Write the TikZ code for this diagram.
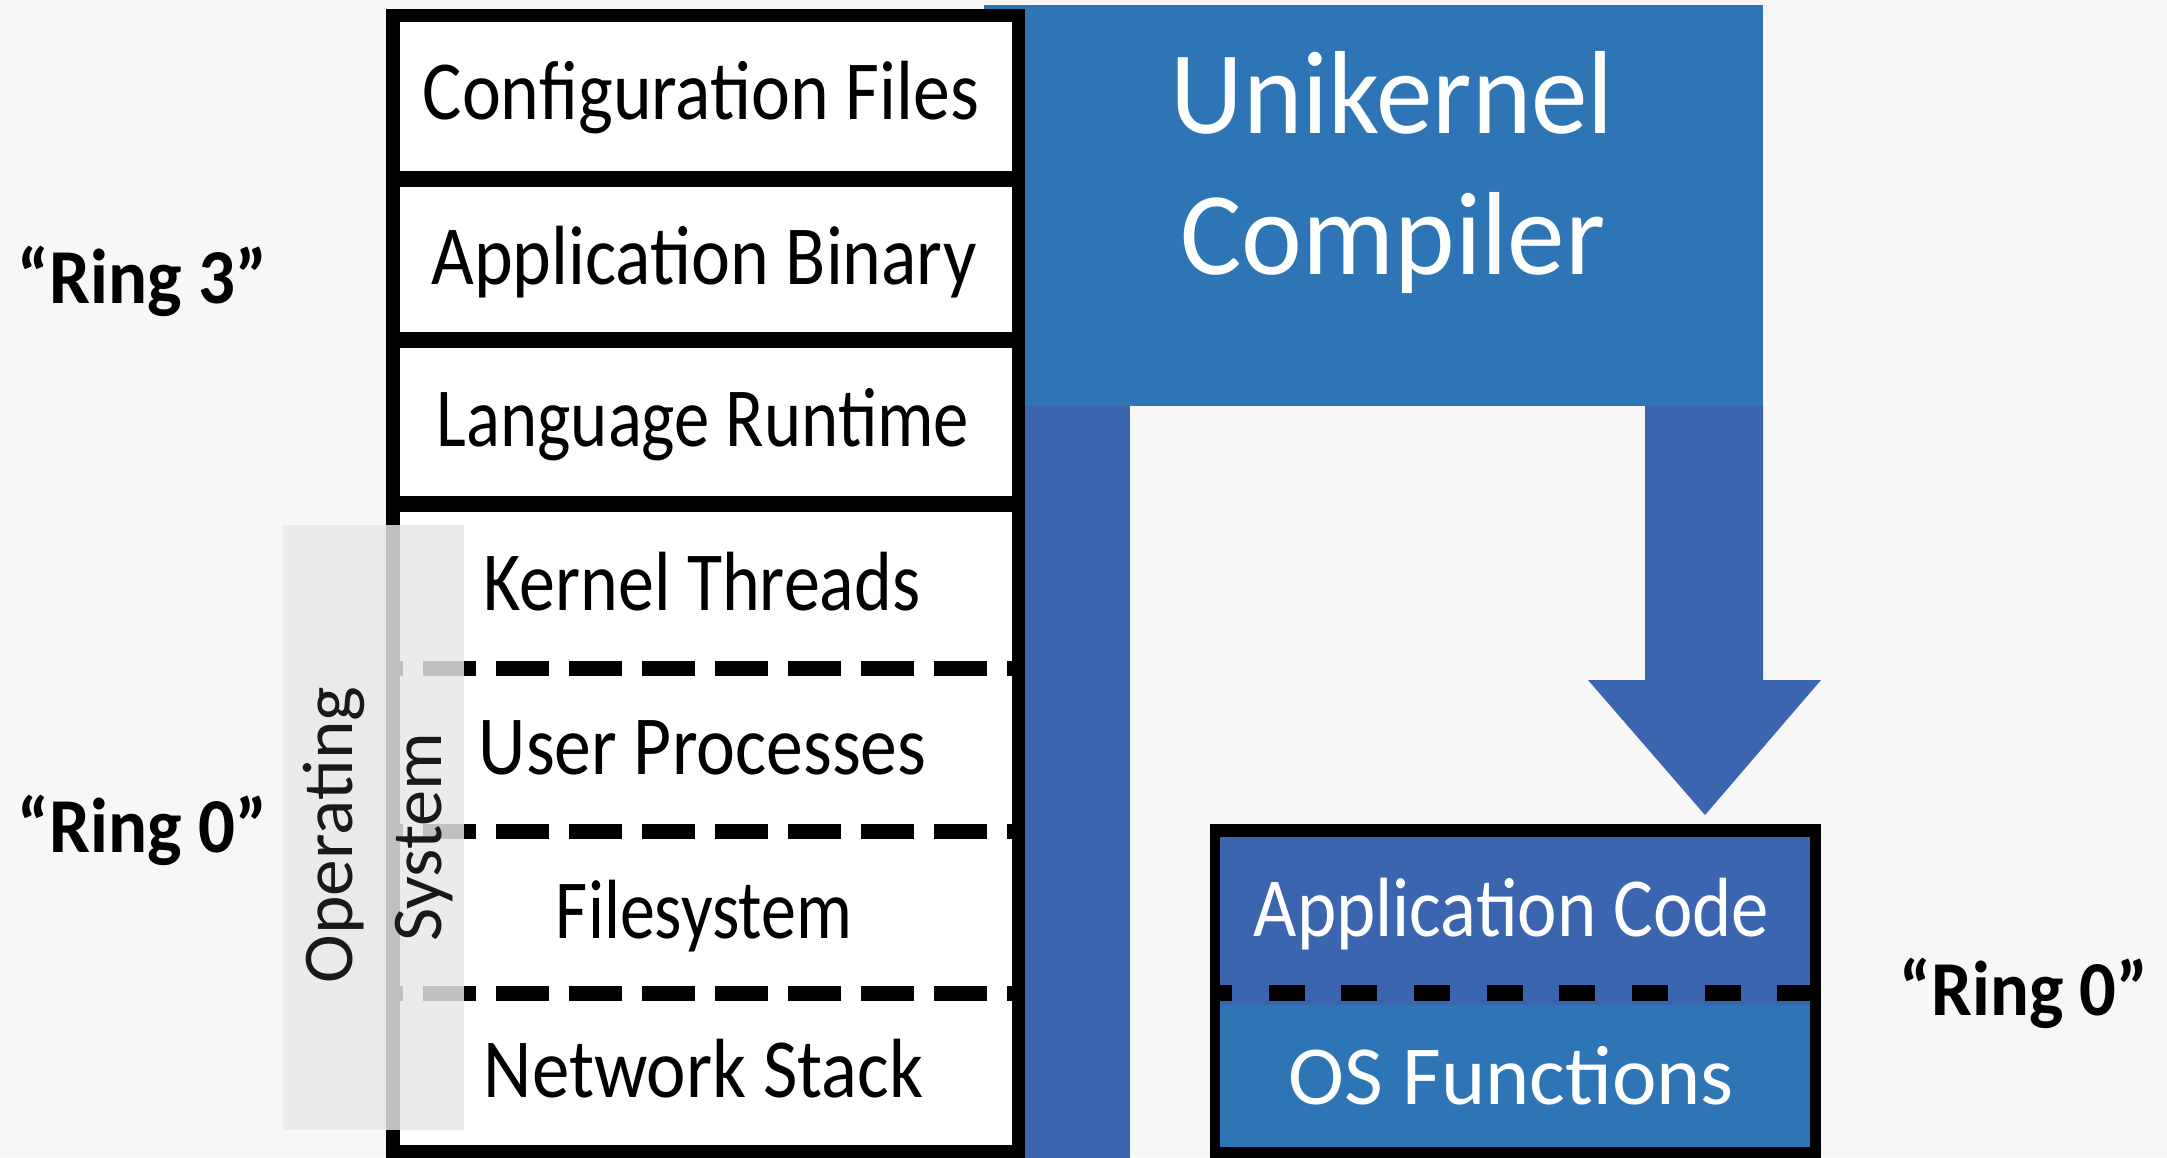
\documentclass[tikz,border=0pt]{standalone}
\usepackage{fontspec}
\setmainfont{Carlito}
\usepackage{graphicx}
\definecolor{bgc}{HTML}{F7F7F7}
\definecolor{blueA}{HTML}{2E75B6}
\definecolor{blueB}{HTML}{3C65AF}
\newcommand\fitw[2]{\resizebox{#1}{\height}{#2}}
\tikzset{
  txt/.style={inner sep=0pt, outer sep=0pt, anchor=base},
  boxfont/.style={font=\fontsize{23.9pt}{24pt}\selectfont, text=black},
  whitefont/.style={font=\fontsize{23.9pt}{24pt}\selectfont, text=white},
  titlefont/.style={font=\fontsize{33.6pt}{34pt}\selectfont, text=white},
  ringfont/.style={font=\fontsize{22.1pt}{23pt}\selectfont\bfseries, text=black},
  osfont/.style={font=\fontsize{20.3pt}{21pt}\selectfont, text=black!90},
  sepdash/.style={line width=0.15cm, black, dash pattern=on 0.53cm off 0.20cm, dash phase=0.50cm},
  appdash/.style={line width=0.16cm, black, dash pattern=on 0.36cm off 0.366cm, dash phase=0.24cm}
}
\begin{document}
\begin{tikzpicture}[x=0.01cm,y=-0.01cm]
\path[use as bounding box] (0,0) rectangle (2167,1157);
\clip (0,0) rectangle (2167,1157);
\fill[bgc] (0,0) rectangle (2167,1157);

% blue compiler shape
\fill[blueA] (984,5) rectangle (1763,406);
\fill[blueB] (984,406) rectangle (1130,1170);
\fill[blueB] (1645,406) -- (1763,406) -- (1763,680) -- (1821,680) -- (1705,815) -- (1588,680) -- (1645,680) -- cycle;

% traditional stack
\fill[black] (386,9) rectangle (1025,1170);
\fill[white] (400,22) rectangle (1012,171);
\fill[white] (400,187) rectangle (1012,332);
\fill[white] (400,348) rectangle (1012,496);
\fill[white] (400,512) rectangle (1012,1145);
\coordinate (d1l) at (400,668.5); \coordinate (d1r) at (1012,668.5);
\coordinate (d2l) at (400,831.5); \coordinate (d2r) at (1012,831.5);
\coordinate (d3l) at (400,993.5); \coordinate (d3r) at (1012,993.5);
\draw[sepdash] (d1l) -- (d1r);
\draw[sepdash] (d2l) -- (d2r);
\draw[sepdash] (d3l) -- (d3r);

% operating system overlay
\fill[gray!18, fill opacity=0.83] (283,525) rectangle (464,1130);
\node[txt, osfont, rotate=90] (os1) at (352,835) {\fitw{2.96cm}{Operating}};
\node[txt, osfont, rotate=90] (os2) at (441,837) {\fitw{2.09cm}{System}};

% stack texts
\node[txt, boxfont] (cfg) at (701,119) {\fitw{5.56cm}{Configuration Files}};
\node[txt, boxfont] (bin) at (704,284) {\fitw{5.45cm}{Application Binary}};
\node[txt, boxfont] (rt)  at (703,446) {\fitw{5.32cm}{Language Runtime}};
\node[txt, boxfont] (kt)  at (702,610) {\fitw{4.36cm}{Kernel Threads}};
\node[txt, boxfont] (up)  at (702.5,774) {\fitw{4.47cm}{User Processes}};
\node[txt, boxfont] (fs)  at (704,938) {\fitw{2.96cm}{Filesystem}};
\node[txt, boxfont] (ns)  at (703.5,1097) {\fitw{4.39cm}{Network Stack}};

% compiler title
\node[txt, titlefont] (uk) at (1392,133) {\fitw{4.43cm}{Unikernel}};
\node[txt, titlefont] (cp) at (1393,274) {\fitw{4.25cm}{Compiler}};

% unikernel box
\fill[black] (1210,824) rectangle (1821,1170);
\fill[blueB] (1220,837) rectangle (1810,1005);
\fill[blueA] (1220,1005) rectangle (1810,1147);
\coordinate (al) at (1220,993); \coordinate (ar) at (1810,993);
\draw[appdash] (al) -- (ar);
\node[txt, whitefont] (ac) at (1511.5,936) {\fitw{5.15cm}{Application Code}};
\node[txt, whitefont] (of) at (1511.5,1104) {\fitw{4.45cm}{OS Functions}};

% ring labels
\node[txt, ringfont] (r3) at (142.5,303) {\fitw{2.49cm}{“Ring 3”}};
\node[txt, ringfont] (r0a) at (142.5,852) {\fitw{2.49cm}{“Ring 0”}};
\node[txt, ringfont] (r0b) at (2024,1015) {\fitw{2.48cm}{“Ring 0”}};
\end{tikzpicture}
\end{document}
